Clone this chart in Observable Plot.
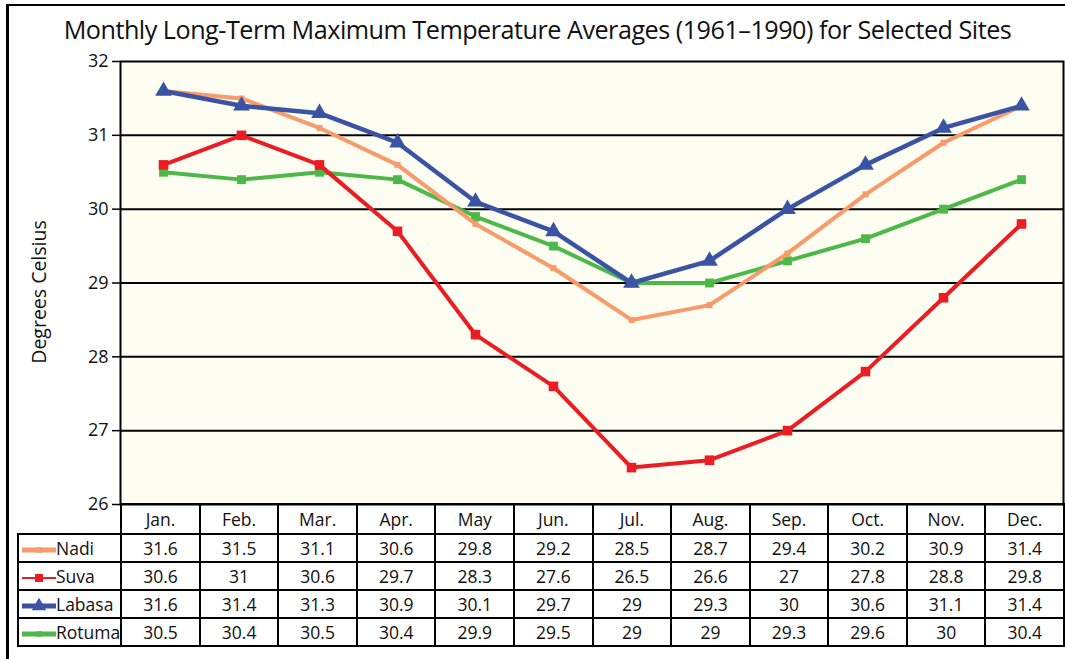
<!DOCTYPE html>
<html><head><meta charset="utf-8">
<script src="https://cdn.jsdelivr.net/npm/d3@7"></script>
<script src="https://cdn.jsdelivr.net/npm/@observablehq/plot@0.6"></script>
<style>
body{margin:0;background:#fff;font-family:"Open Sans",sans-serif;color:#111;}
#wrap{position:relative;width:1065px;height:659px;overflow:hidden;}
#outer{position:absolute;left:6px;top:4px;width:1056px;height:700px;border-left:3px solid #000;border-top:2px solid #000;}
#title{position:absolute;left:0;width:1075px;top:12px;text-align:center;font-size:25.2px;letter-spacing:-0.5px;white-space:nowrap;}
#ylabel{position:absolute;left:38px;top:292px;transform:translate(-50%,-50%) rotate(-90deg);font-size:19.5px;white-space:nowrap;}
#chart{position:absolute;left:0;top:0;}
#chart svg text{font-size:18px;}
#tbl{position:absolute;left:17px;top:503px;border-collapse:collapse;table-layout:fixed;font-size:17.5px;}
#tbl td{border:2px solid #000;text-align:center;padding:0;line-height:20px;white-space:nowrap;overflow:hidden;}
#tbl tr.hdr td{height:28px;}
#tbl tr.row td{height:26px;}
#tbl td.lab{text-align:left;padding-left:1px;}
#tbl td.blank{border-top:none;border-left:none;}
#tbl td.lab svg{vertical-align:middle;margin-right:0px;}
</style></head>
<body><div id="wrap"><div id="outer"></div><div id="title">Monthly Long-Term Maximum Temperature Averages (1961–1990) for Selected Sites</div><div id="ylabel">Degrees Celsius</div><div id="chart"></div><table id="tbl"></table></div>
<script>
const months = ["Jan.","Feb.","Mar.","Apr.","May","Jun.","Jul.","Aug.","Sep.","Oct.","Nov.","Dec."];
const siteNames = ["Nadi","Suva","Labasa","Rotuma"];
const nadi   = [31.6,31.5,31.1,30.6,29.8,29.2,28.5,28.7,29.4,30.2,30.9,31.4];
const suva   = [30.6,31,30.6,29.7,28.3,27.6,26.5,26.6,27,27.8,28.8,29.8];
const labasa = [31.6,31.4,31.3,30.9,30.1,29.7,29,29.3,30,30.6,31.1,31.4];
const rotuma = [30.5,30.4,30.5,30.4,29.9,29.5,29,29,29.3,29.6,30,30.4];
const yTicks = [26,27,28,29,30,31,32];

const styles = {
  Nadi:   {color:"#f89a6a", symbol:"square", r:3.4, width:4},
  Suva:   {color:"#ec1c24", symbol:"square", r:5.4, width:4},
  Labasa: {color:"#3a53a4", symbol:"triangle", r:6.2, width:4.5},
  Rotuma: {color:"#4cb848", symbol:"square", r:5, width:4}
};
const seriesVals = {Nadi:nadi, Suva:suva, Labasa:labasa, Rotuma:rotuma};
const rows = siteNames.flatMap(s => months.map((m,i)=>({site:s, month:m, value:seriesVals[s][i]})));
const drawOrder = ["Rotuma","Nadi","Suva","Labasa"];

const marks = [
  Plot.frame({fill:"#fdfdf1"}),
  Plot.ruleY(yTicks.slice(1,-1), {stroke:"#000", strokeWidth:2}),
  Plot.axisY({ticks:yTicks, tickSize:8, tickPadding:4, tickFormat:d=>d, stroke:"#000", strokeWidth:1.5, label:null})
];
for (const s of drawOrder) {
  const st = styles[s];
  const d = rows.filter(r=>r.site===s);
  marks.push(Plot.line(d, {x:"month", y:"value", stroke:st.color, strokeWidth:st.width, strokeLinejoin:"miter"}));
  marks.push(Plot.dot(d, {x:"month", y:"value", fill:st.color, stroke:"none", symbol:st.symbol, r:st.r}));
}
marks.push(Plot.frame({stroke:"#000", strokeWidth:2}));

const chart = Plot.plot({
  width:1065, height:522,
  marginTop:61, marginBottom:18, marginLeft:120, marginRight:2,
  style:{fontFamily:"'Open Sans',sans-serif", color:"#111", background:"transparent", fontSize:"18px"},
  x:{type:"point", domain:months, padding:0.5, axis:null},
  y:{domain:[26,32], axis:null},
  marks
});
document.getElementById("chart").appendChild(chart);

// data table
const colW = (1063-120)/12;
const tbl = d3.select("#tbl");
const cg = tbl.append("colgroup");
cg.append("col").style("width","103px");
months.forEach(()=>cg.append("col").style("width",colW+"px"));
const hdr = tbl.append("tr").attr("class","hdr");
hdr.append("td").attr("class","blank");
months.forEach(m=>hdr.append("td").text(m));
siteNames.forEach(s=>{
  const tr = tbl.append("tr").attr("class","row");
  const lab = tr.append("td").attr("class","lab");
  const st = styles[s];
  const sw = lab.append("svg").attr("width",36).attr("height",16);
  sw.append("line").attr("x1",2).attr("x2",36).attr("y1",8).attr("y2",8)
    .attr("stroke",st.color).attr("stroke-width", s==="Suva"?2:5);
  const sym = st.symbol==="triangle"? d3.symbolTriangle : d3.symbolSquare;
  const size = s==="Suva"? 64 : (s==="Labasa"? 90 : 30);
  sw.append("path").attr("d", d3.symbol(sym, size)()).attr("transform","translate(19,8)").attr("fill",st.color);
  lab.append("span").text(s);
  seriesVals[s].forEach(v=>tr.append("td").text(v));
});
</script></body></html>
